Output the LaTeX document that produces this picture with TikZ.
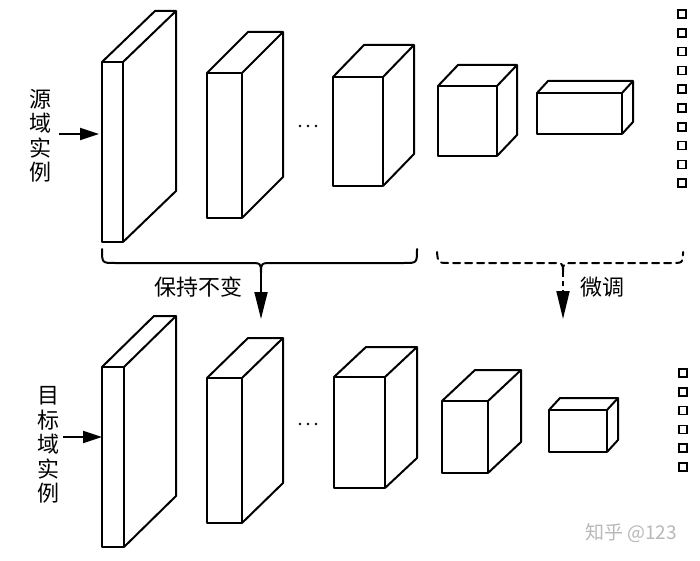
\documentclass[tikz,border=0pt]{standalone}
\usepackage{fontspec}
\newfontfamily\cjk{Noto Sans CJK SC}
\usetikzlibrary{arrows.meta}
\newcommand\drawcuboid[6]{%
  \draw[box,fill=white] (#1,#3) rectangle (#2,#4);
  \draw[box] (#1,#3) -- (#1+#5,#3-#6) -- (#2+#5,#3-#6) -- (#2+#5,#4-#6) -- (#2,#4);
  \draw[box] (#2,#3) -- (#2+#5,#3-#6);
}
\newcommand\drawsq[2]{\draw[sq] (#1-4,#2-4) rectangle (#1+4,#2+4);}
\begin{document}
\begin{tikzpicture}[x=1pt,y=-1pt,
  box/.style={line width=2pt, line join=round},
  sq/.style={line width=1.7pt},
  arr/.style={line width=1.8pt, -{Triangle[length=19pt,width=12pt]}},
  darr/.style={line width=1.8pt, -{Triangle[length=27pt,width=13pt]}},
  brace/.style={line width=2pt, line cap=round, line join=round},
  lbl/.style={font=\cjk\fontsize{22}{24.5}\selectfont, align=center, inner sep=0pt},
  dotmark/.style={fill=black}]
\useasboundingbox (0,0) rectangle (700,561);
% top row
\drawcuboid{102}{123}{62}{242}{53}{51}
\drawcuboid{207}{242}{73}{218}{41}{41}
\drawcuboid{333}{383}{77}{186}{31}{32}
\drawcuboid{438}{497}{86}{156}{20}{21}
\drawcuboid{537}{622}{93}{134}{11}{12}
% bottom row
\drawcuboid{102}{124}{367}{547}{52}{51}
\drawcuboid{207}{242}{378}{523}{41}{40}
\drawcuboid{334}{385}{377}{488}{32}{30}
\drawcuboid{442}{488}{401}{473}{33}{31}
\drawcuboid{549}{607}{410}{452}{11}{12}
% dots
\foreach \xx in {300,308,316} {
  \fill[dotmark] (\xx,126) circle (1.3pt);
  \fill[dotmark] (\xx,424) circle (1.3pt);
}
% output squares
\foreach \k in {0,...,9} { \drawsq{682}{14+18.8*\k} }
\foreach \k in {0,...,5} { \drawsq{683}{373+18.8*\k} }
% labels
\node[lbl] (src) at (40,136) {源\\域\\实\\例};
\node[lbl] (tgt) at (48,445) {目\\标\\域\\实\\例};
\coordinate (srcA) at (59,134);
\coordinate (srcB) at (99,134);
\coordinate (tgtA) at (63,437);
\coordinate (tgtB) at (102,437);
\draw[arr] (srcA) -- (srcB);
\draw[arr] (tgtA) -- (tgtB);
% solid brace
\draw[brace] (102,249) .. controls (102,263) .. (115,263) -- (249,263)
  .. controls (261,263) .. (261,273) .. controls (261,263) .. (273,263)
  -- (404,263) .. controls (417,263) .. (417,249);
\coordinate (keepA) at (261,272);
\coordinate (keepB) at (261,319);
\draw[darr] (keepA) -- (keepB);
\node[lbl] (keep) at (198,287) {保持不变};
% dashed brace
\draw[brace, dash pattern=on 7pt off 5pt] (437,252) .. controls (438,263) .. (450,263) -- (551,263)
  .. controls (563,263) .. (563,272);
\draw[brace, dash pattern=on 7pt off 5pt] (563,272) .. controls (563,263) .. (575,263)
  -- (671,263) .. controls (683,263) .. (683,252);
\coordinate (tuneA) at (563,272);
\coordinate (tuneM) at (563,291);
\coordinate (tuneB) at (563,319);
\draw[line width=1.8pt, dash pattern=on 5pt off 4pt] (tuneA) -- (tuneM);
\draw[darr, -{Triangle[length=28pt,width=13pt]}] (tuneM) -- (tuneB);
\node[lbl] (tune) at (602,287) {微调};
% watermark
\node[font=\cjk\fontsize{19}{19}\selectfont, text=black!28, inner sep=0pt] (wm) at (631,533) {知乎 @123};
\end{tikzpicture}
\end{document}
